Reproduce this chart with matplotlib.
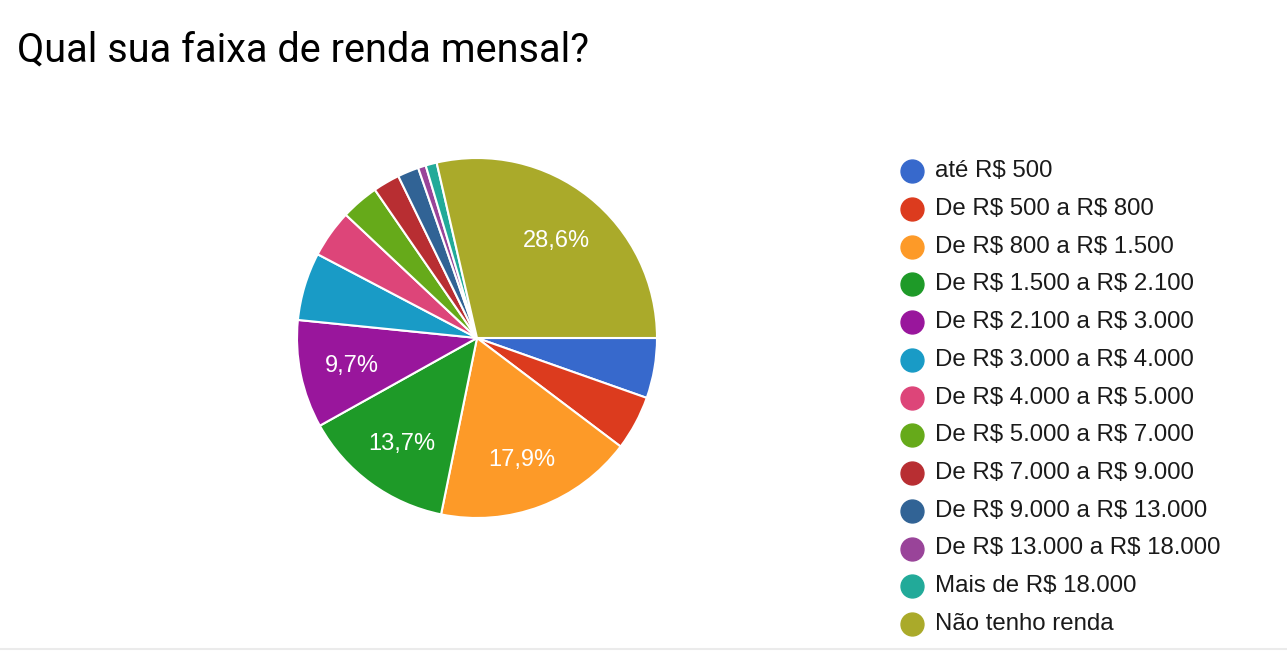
import matplotlib.pyplot as plt
from matplotlib.lines import Line2D

plt.rcParams['text.parse_math'] = False

categories = ['até R$ 500', 'De R$ 500 a R$ 800', 'De R$ 800 a R$ 1.500',
              'De R$ 1.500 a R$ 2.100', 'De R$ 2.100 a R$ 3.000',
              'De R$ 3.000 a R$ 4.000', 'De R$ 4.000 a R$ 5.000',
              'De R$ 5.000 a R$ 7.000', 'De R$ 7.000 a R$ 9.000',
              'De R$ 9.000 a R$ 13.000', 'De R$ 13.000 a R$ 18.000',
              'Mais de R$ 18.000', 'Não tenho renda']
values = [5.4, 4.9, 17.9, 13.7, 9.7, 6.1, 4.3, 3.4, 2.4, 1.9, 0.7, 1.0, 28.6]
colors = ['#3769cc', '#dc3b1e', '#fd9a28', '#1e9a28', '#99169c', '#199bc6',
          '#dd4579', '#66aa1a', '#b82e32', '#316395', '#994499', '#22aa99',
          '#aaaa2a']
title = 'Qual sua faixa de renda mensal?'

W, H = 1287, 665
fig = plt.figure(figsize=(W / 100, H / 100), dpi=100)

# pie centred at (477, 338) px, radius 180 px
cx, cy, r = 477, 338, 180
ax = fig.add_axes([(cx - r) / W, (H - cy - r) / H, 2 * r / W, 2 * r / H])


def fmt(p):
    if p < 9:
        return ''
    return ('%.1f%%' % p).replace('.', ',')


wedges, texts, autotexts = ax.pie(
    values, colors=colors, startangle=0, counterclock=False,
    autopct=fmt, pctdistance=0.71,
    wedgeprops=dict(edgecolor='white', linewidth=1.5),
    textprops=dict(color='white', fontsize=17, family='Liberation Sans'))
for t in autotexts:
    t.set_va('center_baseline')
ax.set_xlim(-1, 1)
ax.set_ylim(-1, 1)
ax.set_aspect('equal')
ax.axis('off')

fig.text(17 / W, 1 - 50 / H, title, fontsize=28.5, family='Roboto',
         va='center', ha='left', color='black')

# legend
y0, dy = 171, 37.75
for i, (lab, col) in enumerate(zip(categories, colors)):
    y = 1 - (y0 + i * dy) / H
    fig.add_artist(Line2D([912 / W], [y], marker='o', markersize=16.5,
                          color=col, linestyle='none', transform=fig.transFigure))
    fig.text(935 / W, y, lab, fontsize=17.3, family='Liberation Sans',
             va='center', ha='left', color='#1a1a1a')

# bottom separator line
fig.add_artist(Line2D([0, 1], [1 - 649 / H, 1 - 649 / H], color='#ebebeb',
                      linewidth=1.5, transform=fig.transFigure))

fig.savefig('out.png', dpi=100, facecolor='white')
